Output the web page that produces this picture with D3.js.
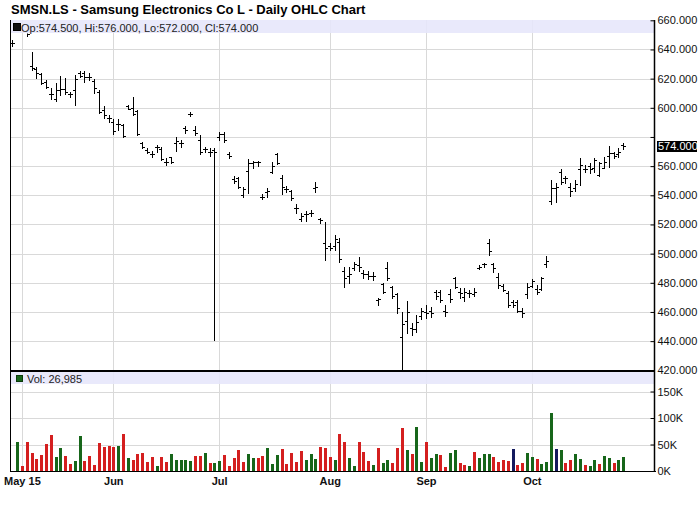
<!DOCTYPE html>
<html><head><meta charset="utf-8">
<script src="https://cdn.jsdelivr.net/npm/d3@7"></script>
<style>
body{margin:0;background:#fff}
svg{display:block}
text{font-family:"Liberation Sans",Arial,sans-serif}
</style>
</head><body>
<svg id="c" width="700" height="512"></svg>
<script>
// ---------- DATA ----------
const opens = [644.5,655,656,655,629,626.8,623,618,609.6,606,612,613,609.3,612,624,624,621,618.7,611,598.5,
593,590,589,588,601,600,598,576,571,568,573,572,563,566,576,576,586,596,585,578,
572,570,571,580,582,568,551,552,540,557,562,562.5,539,542.5,556,568,552,544.5,543,531.6,
524,527,528,545,524,507,505,505,508,488,485,490,492,487,486,485,468,479,490,477,
472,443,454,449,448,457,460,461,474,474,461,472,483,474,470,473,472,490,493,507,
493,484,478,473,467,467,461,472,478,476,476,493,536,545,556,552,546,545,558,558,
560,559,554,559,567,569,568,574.5];
const highs = [646.5,658,659,657,638.3,627.8,623.6,619,613.4,616.8,621.8,620.2,611,622.3,625.2,625.2,623.6,619.7,612,601.2,
595,592.5,592,589,601.9,607.6,598.5,576.8,572.2,570.4,574.5,573.3,565.8,566.5,579.8,578,587.5,597.3,587.5,581.3,
573.3,572.2,572.2,583.6,583.6,570,553.2,552.3,545.9,564.9,563.7,563.5,540.7,544.8,563,568.8,553.9,546.4,543.6,533.8,
527.6,529.5,530,549,524.6,522,507,512.8,510.5,491,491,494.5,497.5,489,487.8,487.6,469.8,480,494.5,477.8,
472.8,460.2,467.5,452.2,458,463,464.8,463.2,475,475,464.8,475.5,484.2,476.2,476.2,475,476.5,492.2,493.8,509.8,
493.8,486.5,479,474.3,468.2,468.2,462.5,479.7,482.4,478.5,484.2,498.4,550.3,548.2,557.8,553.2,548.2,550.5,565.4,560.8,
562,565.4,563,566.5,573.8,569.9,572.2,576];
const lows = [642.4,653,654,649.5,625.9,620.2,616.3,613.4,605.8,604.9,608.8,609.7,607.7,601.7,621.3,617.9,619,610.4,596.6,592.8,
590.5,582,584.8,579.8,599,595,581.3,572.2,568.8,566,570,564.2,560.8,562,570.6,573,582.9,594.4,581.3,568.3,
569.9,566.9,440.8,577.9,576.8,565.4,548.2,544.8,539,541.8,558.5,560,537.3,539,555,561.5,540.7,542.5,536.8,528.1,
522.4,522.6,525.8,542,521.2,495.6,502.5,502.5,494.5,477.3,480,488.8,488.4,483,482.3,481.9,464.8,473.2,481.9,469.8,
459,418,445.4,444.2,446.5,455,455.7,456.8,468.7,467,457.2,467,476.6,469.4,467.7,470.5,470.9,489.2,490.6,499,
487.6,476.2,474.4,463.6,463.2,460.2,456.8,469.4,477.3,472.3,475,491,533.8,535.6,547.7,548.2,539.5,543.2,547,556.2,
555,556.2,553.2,558.5,559.2,565.4,566.5,572];
const closes = [644.5,656,655,650.5,627,624,617,614,609.6,612,613,611,609.3,620,622,621,621,613.6,597,595,
593,584,589,581,599,596,582,573,570,568,573,565,563,563,577,576,585,596,583,570,
571.5,570,570,582,578,567,550,546,544,562,563,563,539,543,560,562,546,544,538,531,
526,527,528,546,523,504,504,510,496,483,486,493,491,486,485,484.7,469,474,483,471,
462.5,452,460,448,453,461,459,459,471,468,460,469,477,473,474,473.2,474,491,493,502,
490,478.5,474.8,465,465,461,459,477,481,474,483,495,545,546,549,551.6,543,548,561,558,
558,564,562,563,569,567,570,574];
const volumes = [null,55300,9400,55300,34600,22000,30200,51000,68000,27000,43400,28300,13200,18900,66000,19500,28300,12000,53500,44700,
47800,45900,47200,69800,24500,20800,32000,34000,17600,25800,10000,25800,17600,32000,20800,20800,20800,18900,28300,28300,
33300,15000,15000,19500,30200,9400,24500,39600,17600,32000,24500,24500,28300,42800,13200,30200,41500,13200,34000,17600,
37700,20800,32000,22600,44700,43400,25800,20800,69800,55300,24500,9400,55300,35800,18900,11300,43400,15000,20800,15000,
43400,81000,39600,32000,83000,17000,54700,24500,32000,30200,8200,34000,39600,15000,11300,9400,35800,24500,32000,32000,
26400,17000,20800,18900,41500,11300,15000,34000,26400,22600,13200,17000,109400,41500,39600,15000,20800,32000,22600,11300,
9400,20800,13200,28300,24500,15000,20800,26985];
// u = up, d = down, n = unchanged
const volDirection = ["", "u","d","d","d","d","d","d","d","u","u","d","d","u","u","d","d","d","d","d",
"d","d","u","d","u","d","d","d","d","d","u","d","d","u","u","u","u","u","d","d",
"u","d","u","u","d","d","d","d","d","u","u","d","d","u","u","u","d","d","d","d",
"d","u","u","u","d","d","d","u","d","d","u","u","d","d","d","u","d","u","u","d",
"d","d","u","d","u","u","d","u","u","d","d","u","u","d","d","u","d","u","u","u",
"d","d","d","d","n","d","d","u","u","d","u","u","u","n","u","d","d","u","u","d",
"u","u","d","u","u","d","u","u"];
const monthTickIndex = [2,21,43,66,86,108];
const monthTickLabels = ["May 15","Jun","Jul","Aug","Sep","Oct"];
const priceTicks = [420,440,460,480,500,520,540,560,580,600,620,640,660];
const priceLabelTicks = [420,440,460,480,500,520,540,560,600,620,640,660];
const volTicks = [0,50000,100000,150000];
const volTickLabels = ["0K","50K","100K","150K"];
const lastBar = {op:574.5, hi:576, lo:572, cl:574};
const lastVolume = 26985;
const titleText = "SMSN.LS - Samsung Electronics Co L - Daily OHLC Chart";

// ---------- CHART ----------
const svg = d3.select("#c");
const L = 11, R = 655;
const pTop = 20, pBot = 370, vBot = 471;
const n = closes.length;
const x = d3.scaleLinear().domain([0, n-1]).range([12.3, 623.2]);
const yP = d3.scaleLinear().domain([420, 660]).range([370.3, 20.3]);
const yV = d3.scaleLinear().domain([0, 150000]).range([471, 391.5]);
const crisp = v => Math.round(v) + 0.5;
const gridC = "#d9d9d9";

// gridlines
const g = svg.append("g");
g.selectAll("line.hp").data(priceTicks.filter(d => d>420 && d<660)).enter().append("line")
  .attr("x1", L).attr("x2", R).attr("y1", d => crisp(yP(d))).attr("y2", d => crisp(yP(d)))
  .attr("stroke", gridC);
g.selectAll("line.hv").data(volTicks.filter(d => d>0)).enter().append("line")
  .attr("x1", L).attr("x2", R).attr("y1", d => crisp(yV(d))).attr("y2", d => crisp(yV(d)))
  .attr("stroke", gridC);
g.selectAll("line.vx").data(monthTickIndex).enter().append("line")
  .attr("x1", d => crisp(x(d))).attr("x2", d => crisp(x(d))).attr("y1", pTop).attr("y2", vBot)
  .attr("stroke", gridC);

// clip for price bars
svg.append("clipPath").attr("id","pc").append("rect").attr("x", L).attr("y", 33.5).attr("width", R-L).attr("height", pBot-33.5);

// OHLC bars
const bars = svg.append("g").attr("clip-path","url(#pc)").attr("stroke","#000").attr("stroke-width",1);
const idx = d3.range(n);
bars.selectAll("path").data(idx).enter().append("path")
  .attr("fill","none")
  .attr("d", i => {
    const cx = crisp(x(i));
    const h = Math.round(yP(highs[i])), l = Math.round(yP(lows[i]));
    const o = crisp(yP(opens[i])), c = crisp(yP(closes[i]));
    return `M${cx},${h}V${l+1}M${cx-2.5},${o}H${cx}M${cx},${c}H${cx+2.5}`;
  });

// price header band
svg.append("rect").attr("x", L).attr("y", pTop).attr("width", R-L-1).attr("height", 13)
  .attr("fill","#e6e6fa").attr("fill-opacity",0.88);
svg.append("rect").attr("x",13.5).attr("y",23.5).attr("width",7).attr("height",7).attr("fill","#111").attr("stroke","#000");
svg.append("text").attr("x",21).attr("y",31.5).attr("font-size",11).attr("fill","#222")
  .text(`Op:${lastBar.op.toFixed(3)}, Hi:${lastBar.hi.toFixed(3)}, Lo:${lastBar.lo.toFixed(3)}, Cl:${lastBar.cl.toFixed(3)}`);

// volume bars
const volColor = {u:"#17661a", d:"#d41f1f", n:"#141a5e"};
svg.append("g").selectAll("rect").data(idx.filter(i => volumes[i] != null)).enter().append("rect")
  .attr("x", i => Math.round(x(i)) - 1).attr("width", 3)
  .attr("y", i => Math.round(yV(volumes[i]))).attr("height", i => vBot - Math.round(yV(volumes[i])))
  .attr("fill", i => volColor[volDirection[i]]);

// volume header band
svg.append("rect").attr("x", L).attr("y", 372).attr("width", R-L-1).attr("height", 12)
  .attr("fill","#e6e6fa").attr("fill-opacity",0.88);
svg.append("rect").attr("x",16.5).attr("y",375.5).attr("width",6).attr("height",6).attr("fill","#17661a").attr("stroke","#0a3a0a");
svg.append("text").attr("x",27).attr("y",383).attr("font-size",11).attr("fill","#222")
  .text("Vol: " + d3.format(",")(lastVolume));

// frame
svg.append("line").attr("x1",10.5).attr("x2",10.5).attr("y1",pTop).attr("y2",vBot+1).attr("stroke","#000");
svg.append("line").attr("x1",L).attr("x2",R).attr("y1",371).attr("y2",371).attr("stroke","#000").attr("stroke-width",2);
svg.append("line").attr("x1",10).attr("x2",R+1).attr("y1",471.5).attr("y2",471.5).attr("stroke","#000");

// right axes
const pAxis = d3.axisRight(yP).tickValues(priceTicks).tickSize(-4).tickPadding(3)
  .tickFormat(d => priceLabelTicks.includes(d) ? d3.format(".3f")(d) : "");
const pa = svg.append("g").attr("transform",`translate(${R-0.5},0)`).call(pAxis);
pa.select(".domain").attr("d", `M0,${pTop}V${pBot}`);
const vAxis = d3.axisRight(yV).tickValues(volTicks).tickSize(-4).tickPadding(3)
  .tickFormat((d,i) => volTickLabels[i]);
const va = svg.append("g").attr("transform",`translate(${R-0.5},0)`).call(vAxis);
va.select(".domain").attr("d", `M0,${pBot}V${vBot+1}`);
[pa, va].forEach(a => {
  a.selectAll("text").attr("font-family","Liberation Sans, Arial, sans-serif").attr("font-size",11).attr("fill","#111");
  a.selectAll("line,path").attr("stroke","#000");
});
pa.select(".domain").attr("stroke-width",1.5);
va.select(".domain").attr("stroke-width",1.5);

// current price marker
const yc = yP(lastBar.cl);
svg.append("rect").attr("x",657).attr("y",Math.round(yc)-5).attr("width",40).attr("height",11).attr("fill","#000");
svg.append("text").attr("x",658).attr("y",yc).attr("dy","0.36em").attr("font-size",11).attr("fill","#fff")
  .text(d3.format(".3f")(lastBar.cl));

// x axis labels
const xa = svg.append("g").attr("transform",`translate(0,${vBot})`)
  .call(d3.axisBottom(x).tickValues(monthTickIndex).tickSize(0).tickPadding(6).tickFormat((d,i) => monthTickLabels[i]));
xa.select(".domain").remove();
xa.selectAll("text").attr("font-family","Liberation Sans, Arial, sans-serif").attr("font-size",11)
  .attr("font-weight","bold").attr("fill","#111");

// title
svg.append("text").attr("x",11).attr("y",14).attr("font-size",13).attr("font-weight","bold").attr("fill","#000")
  .text(titleText);
</script>
</body></html>
